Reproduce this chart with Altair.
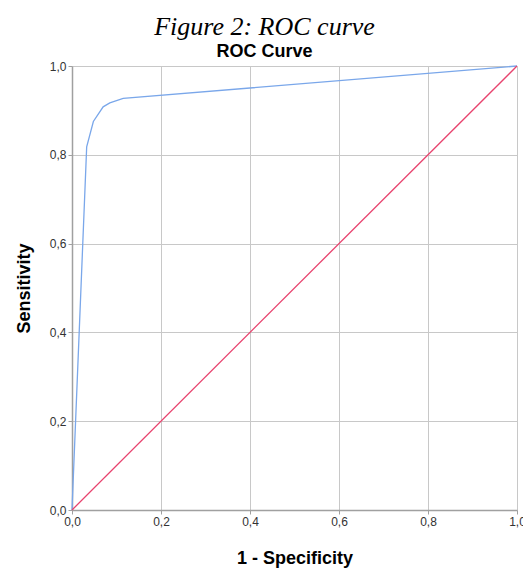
import altair as alt
import pandas as pd

# ROC curve points (1 - specificity, sensitivity)
roc_fpr = [0.0, 0.033, 0.048, 0.070, 0.085, 0.115, 1.0]
roc_tpr = [0.0, 0.818, 0.875, 0.908, 0.917, 0.927, 1.0]
# reference line
ref_fpr = [0.0, 1.0]
ref_tpr = [0.0, 1.0]
series_names = ["ROC", "Reference Line"]
series_colors = ["#7aa7ea", "#e8436e"]
ticks = [0.0, 0.2, 0.4, 0.6, 0.8, 1.0]

df = pd.concat([
    pd.DataFrame({"fpr": roc_fpr, "tpr": roc_tpr, "series": series_names[0], "order": range(len(roc_fpr))}),
    pd.DataFrame({"fpr": ref_fpr, "tpr": ref_tpr, "series": series_names[1], "order": range(len(ref_fpr))}),
])

label_expr = "replace(format(datum.value, '.1f'), '.', ',')"

chart = alt.Chart(df).mark_line(strokeWidth=1.3).encode(
    x=alt.X("fpr:Q", title="1 - Specificity",
            scale=alt.Scale(domain=[0, 1], nice=False),
            axis=alt.Axis(values=ticks, labelExpr=label_expr, titlePadding=22, labelFlush=False)),
    y=alt.Y("tpr:Q", title="Sensitivity",
            scale=alt.Scale(domain=[0, 1], nice=False),
            axis=alt.Axis(values=ticks, labelExpr=label_expr, titlePadding=16, labelFlush=False)),
    color=alt.Color("series:N", scale=alt.Scale(domain=series_names, range=series_colors), legend=None),
    order="order:Q",
    detail="series:N",
).properties(
    width=445,
    height=444,
    title=alt.Title(
        "Figure 2: ROC curve",
        subtitle="ROC Curve",
        font="Liberation Serif",
        fontSize=26,
        fontStyle="italic",
        fontWeight="normal",
        color="#000000",
        subtitleFont="Liberation Sans",
        subtitleFontSize=18,
        subtitleFontWeight="bold",
        subtitleColor="#000000",
        subtitlePadding=3,
        anchor="middle",
        dx=-30,
        offset=-1,
    ),
    autosize=alt.AutoSizeParams(type="none"),
    padding={"left": 72, "top": 66, "right": 6, "bottom": 60},
).configure_view(
    stroke=None,
).configure_axis(
    labelFont="Liberation Sans",
    labelFontSize=12,
    labelColor="#333333",
    titleFont="Liberation Sans",
    titleFontSize=18,
    titleFontWeight="bold",
    titleColor="#000000",
    gridColor="#c8c8c8",
    gridWidth=1,
    domainColor="#a0a0a0",
    domainWidth=1.5,
    tickColor="#a0a0a0",
    tickSize=4,
    labelPadding=2,
)

chart.save("out.html", embed_options={"renderer": "svg", "actions": False})
